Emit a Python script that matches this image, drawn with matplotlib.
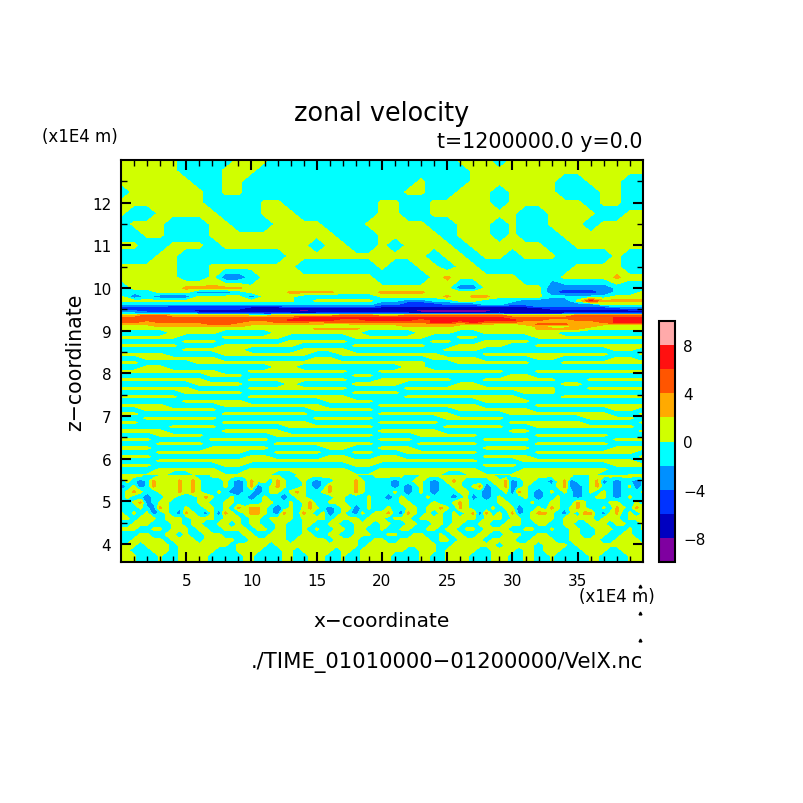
import numpy as np
import matplotlib
matplotlib.use("Agg")
import matplotlib.pyplot as plt
from matplotlib.colors import ListedColormap, BoundaryNorm
from matplotlib.lines import Line2D

# colour classes, bottom to top
levels = [-10, -8, -6, -4, -2, 0, 2, 4, 6, 8, 10]
colors = ["#7f00a0", "#0000c0", "#0033ff", "#0090ff", "#00ffff",
          "#d0ff00", "#ffaa00", "#ff5500", "#ff1010", "#ffaaaa"]

# hand read field, one digit per grid point = colour class (0 purple ... 9 pink)
z_top = [13.0, 12.75, 12.5, 12.25, 12.0, 11.75, 11.5, 11.25, 11.0, 10.75, 10.5, 10.25]
rows_top = [
    "5555544445 5544444444 4444445554 5555555555 5",
    "5555544455 5444444444 4444444555 5555555555 5",
    "5555554455 4444444444 4445444555 5555445554 4",
    "4555555455 4444444444 4455445554 5555444554 4",
    "5555555444 4554444444 5544555554 5555554554 4",
    "5445555544 4555444444 5544555555 5445555445 5",
    "4555444554 4455554445 5555445554 5445554555 5",
    "4455444555 5555555444 5555545554 5444555555 5",
    "5544555455 5555545544 5455554555 5554455555 5",
    "4445544444 4445555555 5555455455 4555444454 4",
    "5555544555 5555444444 5445545544 4444455554 4",
    "5555544533 4555555555 4444565555 5444555565 5",
]

z_band = [10.0, 9.9, 9.8, 9.7, 9.62, 9.57, 9.52, 9.46, 9.4, 9.36, 9.3, 9.25, 9.2, 9.15, 9.1]
rows_band = [
    "4555566666 5555555555 5555553355 5553333344 4",
    "4445553334 5556666555 6666555555 5553222344 5",
    "5343335555 3555444444 5555565665 5554444455 5",
    "5555555555 5555455555 4433445544 4333358666 6",
    "4444444444 4444444444 3322233344 3333333555 5",
    "3333222222 2223333333 2222222222 2233333344 4",
    "2222222222 1111111111 1111111111 1112222223 3",
    "3322221111 1111011111 1110000001 1111111111 1",
    "4444443333 3222222222 2222222222 1111222222 2",
    "6677666666 5566666777 6677777777 6666677777 7",
    "7777777777 7777888888 8888888888 7777777788 8",
    "7777777777 7778888778 8887888888 8776677788 8",
    "7767777777 6677767777 7777887877 7666666788 8",
    "6666666776 6666665566 6666666665 5677766666 6",
    "5556666666 5555555555 5566665555 5565566555 5",
]

z_mid = [9.05, 8.95, 8.85, 8.75, 8.65, 8.55, 8.45, 8.35, 8.25, 8.15, 8.05, 7.95,
         7.85, 7.75, 7.65, 7.55, 7.45, 7.35, 7.25, 7.15, 7.05, 6.95, 6.85, 6.75,
         6.65, 6.55, 6.45, 6.35, 6.25, 6.15, 6.05, 5.95, 5.85, 5.75, 5.6]
rows_mid = [
    "5555555555 5555566665 5555555555 5566665555 5",
    "4444555544 4455555554 4445554455 5555444444 4",
    "5555544455 5554444455 5555445544 4455555555 5",
    "4444455544 4445555544 4444554455 5544444444 4",
    "5555544455 5555444455 5555445555 4455555555 5",
    "4444455555 4444555544 4444455544 4444444455 4",
    "5555444455 5555544555 5555544455 5555555544 5",
    "4455555544 4444455444 4444555544 4455444455 4",
    "5544445555 5555555555 5555445555 5544555555 5",
    "4455444444 4455444444 4455444444 4444444444 4",
    "5555555544 5555555544 5555555555 4455555555 5",
    "4444444555 4444444455 4444444444 5544444444 4",
    "5555555444 5555555544 5555554455 5555445555 5",
    "4444445555 4445444455 5544445544 4444554444 4",
    "5555554444 5555555544 4455555555 5555445555 5",
    "4444455555 4444444455 5544444444 4555444444 4",
    "5555544444 5555555544 4455555555 5444555555 5",
    "4444455555 4444445555 4444444455 5544444444 4",
    "5555444455 5555554444 5555555544 4455555555 5",
    "4455555544 4444455555 4444445555 5544444455 4",
    "5544444455 5555544444 5555554444 5555555544 5",
    "4455555544 4444455555 4444455555 4444445555 4",
    "5544444455 5555544444 5555544444 5555554444 5",
    "4444555544 4445555555 4444455555 4455555555 4",
    "5555444455 5554444444 5555544444 5544444444 5",
    "4445555444 4455555555 4445555544 4455555544 4",
    "5554444555 5544444444 5554444455 5544444455 5",
    "4445555444 4455555555 4445555544 4455555544 4",
    "5554444555 5544445544 5554444455 5544444455 5",
    "4445555555 4455554455 4455555544 4455555555 4",
    "5554444444 5544445544 5544444455 5544444444 5",
    "4445555555 5555555555 5555555544 4555555555 4",
    "5554444455 4444444455 4444444455 5444444455 5",
    "4445555544 5555555544 5555555544 4555555544 4",
    "5555445555 5544555555 5555544555 5555555445 5",
]

# lower turbulent part, read on a grid twice as fine in x
z_low = [5.6, 5.475, 5.35, 5.225, 5.1, 4.975, 4.85, 4.725, 4.6,
         4.475, 4.35, 4.225, 4.1, 3.975, 3.85, 3.725, 3.55]
rows_low = [
    "5555445555 5544555555 5555544555 5555555445 5555445555 5555555544 5555555555 4455555555 5",
    "4543465556 5654445434 6554654454 3445556544 4434455434 5654444556 3455443563 4456343443 4",
    "3453465556 5654445434 6345654454 3465556544 4434345434 4554563456 3454444563 3456443453 4",
    "4565445556 5654454334 4345545654 4565556544 4454345434 4455443445 3654345454 3454543444 5",
    "4544344554 4456544544 3454434554 4445544454 4345444544 4345343454 4454344544 3445543454 4",
    "4456345544 4455445544 4455445456 4455544454 4445544454 4565444455 4445445544 6544455445 4",
    "4445436544 5445545465 6654345456 5434553454 4544554556 5465444545 5344546545 6544546546 5",
    "5454534543 6543536545 6654365465 4534543545 5643654545 4545636454 6345665435 4664356454 5",
    "5545554555 4555545554 5545555455 5545555455 5455545555 4555545554 5545555455 5554555455 5",
    "4455544455 4554455454 5544554455 4455445554 5544554455 4554455445 5544554455 4455545544 5",
    "5554455455 5455445555 4554554454 5445545544 5445544554 5545545555 4455445445 5445554454 5",
    "4445544554 5445554445 5445554455 4455445554 4554455445 4554455445 5544554445 5445544554 4",
    "4455555455 5545555544 5555554555 5545555445 5445555545 5455554555 5445555445 5555445555 4",
    "5554555545 5555555455 5554555555 5555555455 5555555554 4555555545 5555455554 5555555555 5",
    "5544455545 5555544455 5544455455 5554554555 5555445554 5555544555 5455455544 4555544555 5",
    "5554445445 5555444445 5444455445 5544544555 5544445544 5555444555 4455445444 4455444455 5",
    "5554445445 5555444445 5444455445 5544544555 5544445544 5555444555 4455445444 4455444455 5",
]


def to_field(rows):
    # digit -> value inside its colour class, a bit under the middle so thin cyan bands keep their width
    return np.array([[-9.5 + 2 * int(c) for c in r.replace(" ", "")] for r in rows], dtype=float)


W, H = 804, 804
cmap = ListedColormap(colors)
norm = BoundaryNorm(levels, cmap.N)

fig = plt.figure(figsize=(W / 100, H / 100), dpi=100)


def box(x0, y0, x1, y1):
    return [x0 / W, 1 - y1 / H, (x1 - x0) / W, (y1 - y0) / H]


def put(x, y, s, size, ha="left", **kw):
    fig.text(x / W, 1 - y / H, s, fontsize=size, ha=ha, va="center", family="DejaVu Sans", **kw)


ax = fig.add_axes(box(121, 161, 643, 563))

z_upper = z_top + z_band + z_mid
field = to_field(rows_top + rows_band + rows_mid)
x_upper = np.arange(field.shape[1])
cs = ax.contourf(x_upper, z_upper, field, levels=levels, cmap=cmap, norm=norm, antialiased=False)

field_low = to_field(rows_low)
x_low = np.arange(field_low.shape[1]) * 0.5
ax.contourf(x_low, z_low, field_low, levels=levels, cmap=cmap, norm=norm, antialiased=False)

ax.set_xlim(0, 40)
ax.set_ylim(3.58, 13)
ax.set_xticks(range(5, 40, 5))
ax.set_xticks(range(1, 40), minor=True)
ax.set_yticks(range(4, 13))
ax.set_yticks(np.arange(4.5, 13, 1), minor=True)
ax.tick_params(which="major", direction="in", top=True, right=True, length=7, width=1.5, labelsize=11)
ax.tick_params(axis="x", which="major", pad=8)
ax.tick_params(axis="y", which="major", pad=7)
ax.tick_params(which="minor", direction="in", top=True, right=True, length=4, width=1)
for s in ax.spines.values():
    s.set_linewidth(1.5)

# colour bar
cax = fig.add_axes(box(659, 322, 675, 563))
cb = fig.colorbar(cs, cax=cax, ticks=[-8, -4, 0, 4, 8])
cb.ax.minorticks_off()
cb.ax.tick_params(length=0, labelsize=11, pad=6)
cb.ax.set_yticklabels(["\u22128", "\u22124", "0", "4", "8"])
cb.outline.set_linewidth(1.5)

put(382, 114, "zonal velocity", 18.4, ha="center")
put(643, 142, "t=1200000.0 y=0.0", 14.9, ha="right")
put(80, 137, "(x1E4 m)", 12, ha="center")
put(617, 597, "(x1E4 m)", 12, ha="center")
put(382, 622, "x\u2212coordinate", 14.5, ha="center")
put(643, 663, "./TIME_01010000\u221201200000/VelX.nc", 15.2, ha="right")
fig.text(75 / W, 1 - 362 / H, "z\u2212coordinate", fontsize=14.8, rotation=90, ha="center", va="center")

# the three stray marks above the file name
for py in [587, 614, 641]:
    fig.add_artist(Line2D([640 / W], [1 - py / H], marker="^", markersize=2, color="black", linestyle="none"))

fig.savefig("out.png", dpi=100, facecolor="white")
